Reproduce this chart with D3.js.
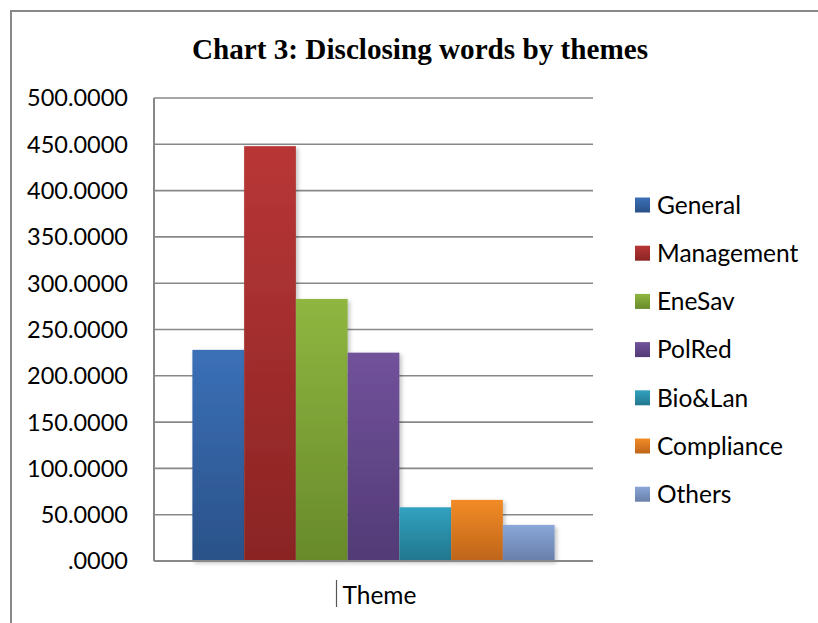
<!DOCTYPE html>
<html>
<head>
<meta charset="utf-8">
<script src="https://cdn.jsdelivr.net/npm/d3@7"></script>
<style>
  body { margin: 0; background: #fff; }
  text { font-family: Lato, "Open Sans", sans-serif; fill: #000; }
</style>
</head>
<body>
<div id="chart"></div>
<script>
// data
var categories = ["Theme"];
var themes = ["General", "Management", "EneSav", "PolRed", "Bio&Lan", "Compliance", "Others"];
var values = [228, 448, 283, 225, 58, 66, 39];
var yTicks = [0, 50, 100, 150, 200, 250, 300, 350, 400, 450, 500];
var topColors = ["#3b70b8", "#b93636", "#8fb640", "#71529b", "#32a2c0", "#f28b26", "#8aa7d8"];
var bottomColors = ["#2a5188", "#8a2424", "#688a2b", "#523a76", "#22768d", "#be651a", "#687fa9"];

var W = 818, H = 623;
var margin = {top: 98, left: 154, right: 225, bottom: 60};
var width = W - margin.left - margin.right,
    height = H - margin.top - margin.bottom - 2;

var svg = d3.select("#chart").append("svg")
    .attr("width", W)
    .attr("height", H);

// gradients + shadow
var defs = svg.append("defs");
themes.forEach(function(t, i){
    var g = defs.append("linearGradient")
        .attr("id", "grad" + i)
        .attr("x1", 0).attr("y1", 0).attr("x2", 0).attr("y2", 1);
    g.append("stop").attr("offset", "0%").attr("stop-color", topColors[i]);
    g.append("stop").attr("offset", "100%").attr("stop-color", bottomColors[i]);
});
var f = defs.append("filter").attr("id", "shadow")
    .attr("x", "-10%").attr("y", "-10%").attr("width", "130%").attr("height", "130%");
f.append("feDropShadow").attr("dx", 2).attr("dy", 2).attr("stdDeviation", 2)
    .attr("flood-color", "#000").attr("flood-opacity", 0.25);

// outer chart border (top + left visible)
svg.append("rect")
    .attr("x", 11).attr("y", 11)
    .attr("width", W + 20).attr("height", H + 20)
    .attr("fill", "none")
    .attr("stroke", "#888")
    .attr("stroke-width", 2);

svg.append("text")
    .attr("x", 192)
    .attr("y", 59)
    .attr("textLength", 456)
    .attr("lengthAdjust", "spacingAndGlyphs")
    .style("font-family", "'Liberation Serif', 'Times New Roman', serif")
    .style("font-weight", "bold")
    .style("font-size", "30px")
    .text("Chart 3: Disclosing words by themes");

var g = svg.append("g")
    .attr("transform", "translate(" + margin.left + "," + margin.top + ")");

var y = d3.scaleLinear().domain([0, 500]).range([height, 0]);

var x0 = d3.scaleBand().domain(categories).range([0, width])
    .paddingInner(0).paddingOuter(0.106);
var x1 = d3.scaleBand().domain(themes).range([0, x0.bandwidth()]).padding(0);

// gridlines
g.append("g").selectAll("line")
    .data(yTicks.filter(function(d){ return d > 0; }))
    .enter().append("line")
    .attr("x1", 0).attr("x2", width)
    .attr("y1", function(d){ return y(d); })
    .attr("y2", function(d){ return y(d); })
    .attr("stroke", "#888")
    .attr("stroke-width", 1.6);

// y labels
g.append("g").selectAll("text")
    .data(yTicks)
    .enter().append("text")
    .attr("x", -26)
    .attr("y", function(d){ return y(d); })
    .attr("dy", "0.36em")
    .attr("text-anchor", "end")
    .style("font-size", "23.5px")
    .text(function(d){ return d === 0 ? ".0000" : d.toFixed(4); });

// bars
var cat = g.append("g")
    .attr("transform", "translate(" + x0("Theme") + ",0)");
cat.selectAll("rect")
    .data(values)
    .enter().append("rect")
    .attr("x", function(d, i){ return x1(themes[i]); })
    .attr("y", function(d){ return y(d); })
    .attr("width", x1.bandwidth())
    .attr("height", function(d){ return y(0) - y(d); })
    .attr("fill", function(d, i){ return "url(#grad" + i + ")"; })
    .attr("filter", "url(#shadow)");

// axes lines
g.append("line")
    .attr("x1", 0).attr("x2", 0).attr("y1", 0).attr("y2", height)
    .attr("stroke", "#888").attr("stroke-width", 2);
g.append("line")
    .attr("x1", 0).attr("x2", width).attr("y1", height).attr("y2", height)
    .attr("stroke", "#888").attr("stroke-width", 2);

// category label
var cx = x0("Theme") + x0.bandwidth() / 2;
g.append("line")
    .attr("x1", cx - 37).attr("x2", cx - 37)
    .attr("y1", height + 19).attr("y2", height + 46)
    .attr("stroke", "#555").attr("stroke-width", 1.2);
g.append("text")
    .attr("x", cx - 31)
    .attr("y", height + 43)
    .style("font-size", "24.5px")
    .text("Theme");

// legend
var legend = svg.append("g")
    .attr("transform", "translate(635,205)");
var size = 15, step = 48.2;
legend.selectAll("rect")
    .data(themes)
    .enter().append("rect")
    .attr("x", 0)
    .attr("y", function(d, i){ return i * step - size / 2; })
    .attr("width", size).attr("height", size)
    .attr("fill", function(d, i){ return "url(#grad" + i + ")"; });
legend.selectAll("text")
    .data(themes)
    .enter().append("text")
    .attr("x", 22)
    .attr("y", function(d, i){ return i * step; })
    .attr("dy", "0.36em")
    .style("font-size", "24.5px")
    .text(function(d){ return d; });
</script>
</body>
</html>
